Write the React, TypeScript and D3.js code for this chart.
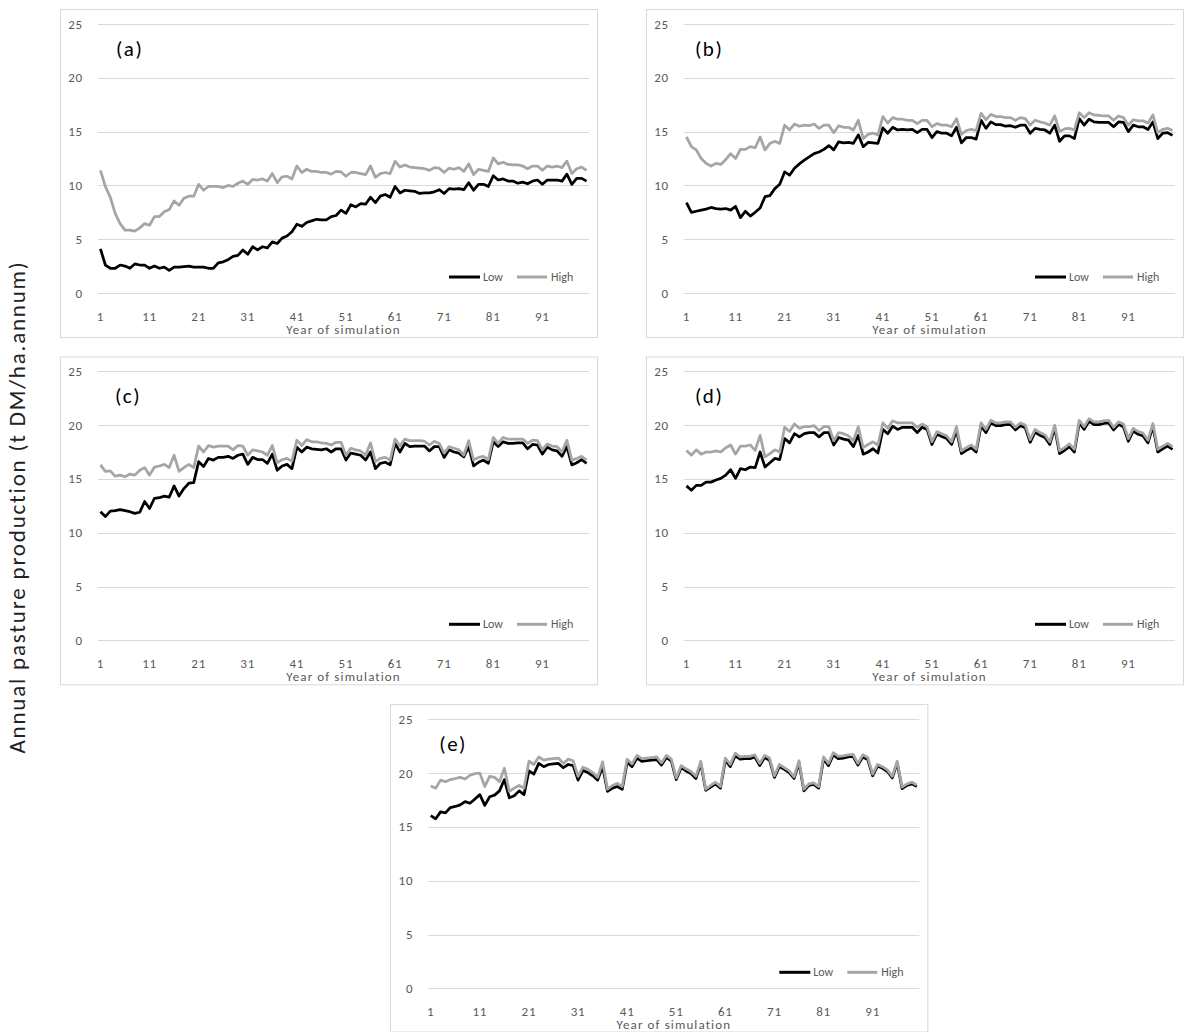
import React from "react";
import * as d3 from "d3";

const years: number[] = d3.range(1, 101);
const xTickLabels = ["1", "11", "21", "31", "41", "51", "61", "71", "81", "91"];
const yTicks = [0, 5, 10, 15, 20, 25];
const seriesNames = ["Low", "High"];
const panelLabels = ["(a)", "(b)", "(c)", "(d)", "(e)"];

const aLow = [
  4.1, 2.6, 2.3, 2.3, 2.6, 2.5, 2.3, 2.7, 2.6, 2.6,
  2.3, 2.5, 2.3, 2.4, 2.1, 2.4, 2.4, 2.45, 2.5, 2.4,
  2.4, 2.4, 2.3, 2.3, 2.8, 2.9, 3.1, 3.4, 3.5, 4.0,
  3.6, 4.3, 4.0, 4.3, 4.2, 4.75, 4.6, 5.1, 5.3, 5.7,
  6.4, 6.2, 6.55, 6.7, 6.85, 6.8, 6.8, 7.1, 7.2, 7.7,
  7.4, 8.2, 8.0, 8.3, 8.25, 8.9, 8.4, 9.0, 9.15, 8.9,
  9.9, 9.3, 9.55, 9.5, 9.45, 9.25, 9.3, 9.3, 9.4, 9.6,
  9.25, 9.7, 9.65, 9.7, 9.6, 10.25, 9.55, 10.1, 10.1, 9.9,
  10.9, 10.5, 10.6, 10.4, 10.4, 10.2, 10.3, 10.15, 10.4, 10.5,
  10.1, 10.5, 10.5, 10.5, 10.4, 11.05, 10.1, 10.65, 10.65, 10.4,
];
const aHigh = [
  11.4, 9.9, 8.9, 7.4, 6.45, 5.85, 5.85, 5.75, 6.05, 6.45,
  6.3, 7.1, 7.1, 7.55, 7.75, 8.55, 8.15, 8.8, 9.0, 9.0,
  10.1, 9.55, 9.9, 9.9, 9.9, 9.8, 10.0, 9.9, 10.2, 10.4,
  10.1, 10.55, 10.5, 10.6, 10.4, 11.1, 10.25, 10.8, 10.85, 10.6,
  11.8, 11.2, 11.5, 11.3, 11.3, 11.2, 11.2, 11.05, 11.3, 11.25,
  10.85, 11.2, 11.2, 11.1, 11.0, 11.8, 10.75, 11.1, 11.2, 11.1,
  12.25, 11.7, 11.9, 11.7, 11.65, 11.6, 11.55, 11.4, 11.65, 11.6,
  11.2, 11.6, 11.5, 11.65, 11.3, 12.0, 11.0, 11.5, 11.4, 11.3,
  12.55, 12.0, 12.15, 11.95, 11.9, 11.9, 11.8, 11.55, 11.8, 11.8,
  11.4, 11.8, 11.7, 11.8, 11.65, 12.25, 11.1, 11.55, 11.7, 11.4,
];
const bLow = [
  8.4, 7.5, 7.6, 7.7, 7.8, 7.95, 7.85, 7.8, 7.85, 7.7,
  8.05, 7.0, 7.6, 7.15, 7.5, 7.9, 8.95, 9.05, 9.7, 10.1,
  11.25, 10.95, 11.6, 12.0, 12.35, 12.65, 12.95, 13.1, 13.35, 13.7,
  13.3, 14.05, 13.95, 14.0, 13.9, 14.7, 13.6, 14.0, 13.95, 13.9,
  15.35, 14.85, 15.4, 15.15, 15.2, 15.15, 15.2, 14.9, 15.2, 15.2,
  14.45, 15.0, 14.85, 14.85, 14.6, 15.4, 13.95, 14.45, 14.45, 14.3,
  16.05, 15.3, 15.9, 15.65, 15.65, 15.5, 15.55, 15.4, 15.6, 15.6,
  14.85, 15.3, 15.2, 15.15, 14.85, 15.6, 14.1, 14.6, 14.6, 14.35,
  16.2, 15.6, 16.15, 15.9, 15.85, 15.85, 15.85, 15.45, 15.9, 15.85,
  15.0, 15.6, 15.45, 15.45, 15.2, 15.9, 14.35, 14.85, 14.9, 14.65,
];
const bHigh = [
  14.5, 13.6, 13.3, 12.5, 12.05, 11.8, 12.05, 11.95, 12.4, 12.95,
  12.5, 13.35, 13.35, 13.6, 13.5, 14.5, 13.3, 13.9, 14.1, 13.9,
  15.6, 15.15, 15.7, 15.5, 15.6, 15.55, 15.7, 15.3, 15.6, 15.6,
  14.9, 15.55, 15.4, 15.4, 15.15, 16.05, 14.35, 14.75, 14.85, 14.7,
  16.4, 15.8, 16.3, 16.15, 16.15, 16.05, 16.05, 15.75, 16.05, 16.05,
  15.45, 15.75, 15.6, 15.6, 15.45, 16.2, 14.75, 15.1, 15.2, 15.1,
  16.7, 16.1, 16.6, 16.4, 16.4, 16.3, 16.3, 16.05, 16.3, 16.2,
  15.6, 16.05, 15.9, 15.8, 15.6, 16.45, 15.0, 15.25, 15.3, 15.15,
  16.75, 16.3, 16.75, 16.55, 16.5, 16.45, 16.45, 16.05, 16.45, 16.3,
  15.6, 16.1, 16.0, 16.0, 15.8, 16.55, 14.9, 15.2, 15.3, 15.1,
];
const cLow = [
  11.95, 11.5, 12.0, 12.05, 12.15, 12.05, 11.95, 11.8, 11.9, 12.9,
  12.25, 13.2, 13.25, 13.4, 13.3, 14.35, 13.4, 14.1, 14.6, 14.65,
  16.6, 16.15, 16.9, 16.75, 17.0, 17.0, 17.1, 16.9, 17.2, 17.3,
  16.35, 17.0, 16.8, 16.8, 16.45, 17.3, 15.8, 16.2, 16.35, 15.95,
  17.95, 17.5, 17.95, 17.8, 17.75, 17.7, 17.8, 17.5, 17.8, 17.8,
  16.75, 17.4, 17.3, 17.2, 16.75, 17.5, 15.95, 16.45, 16.55, 16.3,
  18.3, 17.5, 18.3, 18.0, 18.05, 18.05, 18.05, 17.6, 18.0, 18.0,
  17.0, 17.7, 17.5, 17.4, 17.05, 18.0, 16.2, 16.55, 16.75, 16.45,
  18.45, 18.0, 18.45, 18.3, 18.3, 18.35, 18.35, 17.8, 18.2, 18.15,
  17.3, 17.95, 17.7, 17.6, 17.1, 18.0, 16.3, 16.5, 16.8, 16.45,
];
const cHigh = [
  16.3, 15.7, 15.75, 15.25, 15.35, 15.2, 15.45, 15.35, 15.8, 16.05,
  15.35, 16.1, 16.2, 16.35, 16.05, 17.2, 15.7, 16.05, 16.35, 16.05,
  18.05, 17.5, 18.1, 17.95, 18.05, 18.05, 18.05, 17.7, 18.1, 18.05,
  17.2, 17.7, 17.6, 17.5, 17.2, 18.1, 16.5, 16.8, 16.9, 16.65,
  18.6, 18.1, 18.65, 18.45, 18.45, 18.35, 18.3, 18.15, 18.4, 18.4,
  17.2, 17.85, 17.7, 17.6, 17.2, 18.35, 16.6, 16.9, 17.0, 16.75,
  18.7, 18.05, 18.7, 18.55, 18.55, 18.55, 18.5, 18.15, 18.5, 18.3,
  17.4, 18.0, 17.85, 17.7, 17.2, 18.55, 16.75, 17.0, 17.1, 16.8,
  18.85, 18.3, 18.85, 18.7, 18.7, 18.7, 18.7, 18.3, 18.6, 18.55,
  17.7, 18.25, 18.05, 18.0, 17.5, 18.6, 16.75, 16.9, 17.1, 16.75,
];
const dLow = [
  14.35, 13.95, 14.4, 14.4, 14.7, 14.7, 14.9, 15.05, 15.35, 15.85,
  15.05, 15.95, 15.85, 16.1, 16.05, 17.5, 16.1, 16.5, 16.9, 16.8,
  18.75, 18.35, 19.2, 18.9, 19.2, 19.3, 19.3, 18.9, 19.3, 19.3,
  18.15, 18.85, 18.7, 18.6, 18.0, 19.05, 17.3, 17.5, 17.8, 17.4,
  19.6, 19.2, 19.9, 19.6, 19.8, 19.8, 19.8, 19.3, 19.8, 19.6,
  18.2, 19.15, 18.95, 18.75, 18.2, 19.5, 17.35, 17.65, 17.9, 17.5,
  19.95, 19.3, 20.2, 19.95, 19.95, 20.05, 20.05, 19.55, 19.95, 19.75,
  18.4, 19.35, 19.05, 18.85, 18.2, 19.7, 17.35, 17.65, 18.0, 17.5,
  20.2, 19.6, 20.35, 20.05, 20.05, 20.15, 20.2, 19.55, 20.05, 19.85,
  18.5, 19.45, 19.15, 19.0, 18.35, 19.85, 17.5, 17.8, 18.05, 17.75,
];
const dHigh = [
  17.65, 17.2, 17.7, 17.3, 17.5, 17.5, 17.6, 17.5, 17.9, 18.15,
  17.3, 18.05, 18.05, 18.15, 17.65, 19.05, 17.05, 17.35, 17.7, 17.5,
  19.8, 19.4, 20.1, 19.7, 19.85, 19.85, 19.95, 19.5, 19.85, 19.85,
  18.55, 19.3, 19.2, 19.0, 18.55, 19.85, 17.9, 18.2, 18.45, 18.15,
  20.2, 19.7, 20.4, 20.2, 20.2, 20.2, 20.2, 19.8, 20.1, 19.85,
  18.45, 19.4, 19.2, 19.0, 18.45, 19.85, 17.6, 17.9, 18.15, 17.75,
  20.2, 19.6, 20.45, 20.2, 20.2, 20.3, 20.3, 19.8, 20.2, 20.0,
  18.65, 19.6, 19.3, 19.1, 18.45, 20.0, 17.6, 17.9, 18.25, 17.75,
  20.45, 19.85, 20.6, 20.3, 20.3, 20.4, 20.45, 19.8, 20.3, 20.1,
  18.75, 19.7, 19.4, 19.25, 18.6, 20.15, 17.75, 18.05, 18.3, 18.0,
];
const eLow = [
  16.05, 15.75, 16.4, 16.3, 16.8, 16.9, 17.05, 17.35, 17.2, 17.6,
  18.0, 17.0, 17.8, 17.95, 18.35, 19.4, 17.7, 17.9, 18.35, 18.0,
  20.2, 19.9, 20.9, 20.6, 20.8, 20.85, 20.9, 20.5, 20.8, 20.7,
  19.35, 20.25, 20.05, 19.75, 19.35, 20.6, 18.3, 18.6, 18.75, 18.5,
  21.0, 20.6, 21.4, 21.1, 21.15, 21.2, 21.25, 20.75, 21.45, 21.1,
  19.4, 20.5, 20.2, 19.95, 19.5, 20.9, 18.4, 18.7, 19.0, 18.6,
  21.2, 20.6, 21.6, 21.3, 21.35, 21.35, 21.5, 20.7, 21.45, 21.2,
  19.6, 20.6, 20.35, 20.05, 19.5, 20.95, 18.35, 18.85, 18.95, 18.6,
  21.3, 20.7, 21.7, 21.35, 21.4, 21.5, 21.55, 20.75, 21.5, 21.25,
  19.75, 20.65, 20.45, 20.15, 19.55, 20.95, 18.55, 18.85, 19.0, 18.75,
];
const eHigh = [
  18.8, 18.6, 19.35, 19.2, 19.4, 19.5, 19.6, 19.45, 19.8, 19.95,
  20.0, 18.75, 19.7, 19.6, 19.2, 20.45, 18.3, 18.6, 18.85, 18.6,
  21.1, 20.8, 21.5, 21.2, 21.3, 21.35, 21.4, 20.9, 21.3, 21.15,
  19.7, 20.55, 20.35, 20.05, 19.6, 21.05, 18.5, 18.85, 19.05, 18.75,
  21.3, 20.85, 21.65, 21.35, 21.4, 21.45, 21.5, 20.95, 21.65, 21.3,
  19.55, 20.7, 20.4, 20.15, 19.7, 21.1, 18.5, 18.85, 19.15, 18.75,
  21.4, 20.8, 21.85, 21.5, 21.55, 21.55, 21.7, 20.9, 21.65, 21.4,
  19.75, 20.8, 20.5, 20.2, 19.65, 21.15, 18.5, 19.0, 19.1, 18.75,
  21.5, 20.9, 21.9, 21.55, 21.6, 21.7, 21.75, 20.9, 21.7, 21.45,
  19.9, 20.8, 20.6, 20.3, 19.7, 21.1, 18.7, 19.0, 19.15, 18.9,
];

const lowSeries = [aLow, bLow, cLow, dLow, eLow];
const highSeries = [aHigh, bHigh, cHigh, dHigh, eHigh];

// layout only (frame positions / plot geometry)
const layout = [
  { fx: 60, fy: 9, left: 98, y25: 24, labelDx: 18 },
  { fx: 646, fy: 9, left: 684, y25: 24, labelDx: 11 },
  { fx: 60, fy: 356.5, left: 98, y25: 371.3, labelDx: 17 },
  { fx: 646, fy: 356.5, left: 684, y25: 371.3, labelDx: 11 },
  { fx: 390, fy: 704, left: 428.3, y25: 719.3, labelDx: 11 },
];
const PLOT_W = 491;
const PLOT_H = 269;
const FONT = "Carlito, Calibri, Lato, 'Open Sans', sans-serif";
const LOW_COLOR = "#000000";
const HIGH_COLOR = "#A5A5A5";
const GRID = "#D9D9D9";
const TXT = "#595959";

function Panel({ idx }: { idx: number }) {
  const L = layout[idx];
  const right = L.left + PLOT_W;
  const y0 = L.y25 + PLOT_H;
  const x = d3.scaleBand<number>().domain(years).range([L.left, right]);
  const cx = (yr: number) => (x(yr) as number) + x.bandwidth() / 2;
  const y = d3.scaleLinear().domain([0, 25]).range([y0, L.y25]);
  const line = d3
    .line<number>()
    .x((_, i) => cx(years[i]))
    .y((v) => y(v));
  const frameW = right + 8 - L.fx;
  const frameH = Math.min(y0 + 44, 1031.5) - L.fy;
  const legX = right - 140;
  const legY = y0 - 16;
  return (
    <g>
      <rect x={L.fx + 0.5} y={L.fy + 0.5} width={frameW} height={frameH} fill="#fff" stroke={GRID} strokeWidth={1} />
      {yTicks.map((t) => (
        <g key={t}>
          <line x1={L.left} x2={right} y1={Math.round(y(t)) + 0.5} y2={Math.round(y(t)) + 0.5} stroke={GRID} strokeWidth={1} />
          <text x={L.left - 15} y={y(t) + 4.5} textAnchor="end" fontSize={13} letterSpacing={0.8} fill={TXT} fontFamily={FONT}>
            {t}
          </text>
        </g>
      ))}
      {xTickLabels.map((lab) => (
        <text key={lab} x={cx(+lab)} y={y0 + 28} textAnchor="middle" fontSize={13} letterSpacing={0.8} fill={TXT} fontFamily={FONT}>
          {lab}
        </text>
      ))}
      <text x={(L.left + right) / 2} y={y0 + 41} textAnchor="middle" fontSize={13} letterSpacing={1.1} fill={TXT} fontFamily={FONT}>
        Year of simulation
      </text>
      <path d={line(lowSeries[idx]) || ""} fill="none" stroke={LOW_COLOR} strokeWidth={2.75} strokeLinejoin="round" />
      <path d={line(highSeries[idx]) || ""} fill="none" stroke={HIGH_COLOR} strokeWidth={2.75} strokeLinejoin="round" />
      <text x={L.left + L.labelDx} y={L.y25 + 32} fontSize={21} letterSpacing={1.5} fill="#000" fontFamily={FONT}>
        {panelLabels[idx]}
      </text>
      <g>
        <line x1={legX} x2={legX + 31} y1={legY} y2={legY} stroke={LOW_COLOR} strokeWidth={3} />
        <text x={legX + 34} y={legY + 4} fontSize={12} fill={TXT} fontFamily={FONT}>
          {seriesNames[0]}
        </text>
        <line x1={legX + 68} x2={legX + 98} y1={legY} y2={legY} stroke={HIGH_COLOR} strokeWidth={3} />
        <text x={legX + 102} y={legY + 4} fontSize={12} fill={TXT} fontFamily={FONT}>
          {seriesNames[1]}
        </text>
      </g>
    </g>
  );
}

export default function App() {
  return (
    <svg
      width={1193}
      height={1032}
      style={{ position: "absolute", left: 0, top: 0, background: "#fff" }}
    >
      <rect x={0} y={0} width={1193} height={1032} fill="#fff" />
      {layout.map((_, i) => (
        <Panel key={i} idx={i} />
      ))}
      <text
        transform="translate(25,507) rotate(-90)"
        textAnchor="middle"
        fontSize={23}
        letterSpacing={1.8}
        fill="#222"
        fontFamily={FONT}
      >
        Annual pasture production (t DM/ha.annum)
      </text>
    </svg>
  );
}
